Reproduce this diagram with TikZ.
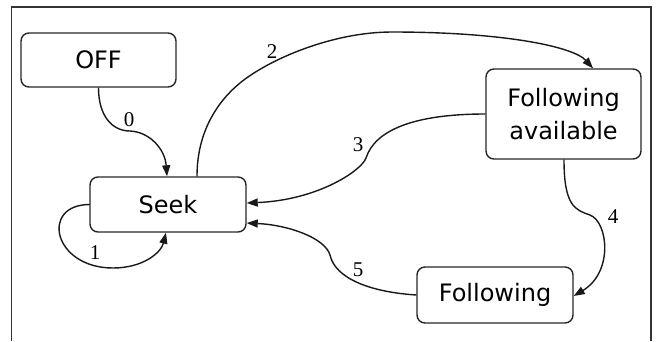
\documentclass[tikz,border=0pt]{standalone}
\usepackage{fontspec}
\setmainfont{DejaVu Sans}
\newfontfamily\numfont{Liberation Serif}
\usetikzlibrary{arrows.meta}
\begin{document}
\begin{tikzpicture}[x=1pt,y=-1pt,
  state/.style={draw=black!85,line width=1.4pt,rounded corners=8pt,
    inner sep=0pt,font=\fontsize{24}{33}\selectfont,align=center},
  trans/.style={draw=black!90,line width=1.4pt,
    -{Triangle[length=11pt,width=8pt]}},
  lbl/.style={font=\numfont\fontsize{21}{21}\selectfont,inner sep=0pt}]
  \useasboundingbox (0,0) rectangle (656,341);
  % frame
  \draw[black!80,line width=1.2pt] (11.5,341) -- (11.5,7) -- (651,7) -- (651,341);

  % states
  \node[state,minimum width=155pt,minimum height=54pt] (off) at (98.5,60) {OFF};
  \node[state,minimum width=156pt,minimum height=55pt] (seek) at (168,204.5) {Seek};
  \node[state,minimum width=155pt,minimum height=90pt] (avail) at (563.5,114) {Following\\available};
  \node[state,minimum width=156pt,minimum height=56pt] (fol) at (495,295) {Following};

  % transitions
  \draw[trans] ([xshift=0pt]off.south) .. controls +(0,28) and +(-18,0) .. (130,131)
     .. controls +(20,1) and +(-2,-27) .. ([xshift=-1pt]seek.north);
  \draw[trans] ([xshift=29pt]seek.north) .. controls +(0,-45) and +(-22,18) .. (240,83)
     .. controls +(28.6,-23.4) and +(-60,0) .. (392,32)
     .. controls +(110,0) and +(-20,-22) .. ([xshift=29.5pt]avail.north);
  \draw[trans] (avail.west) .. controls +(-71,0) and +(9,-28) .. (366,158)
     .. controls +(-4,12) and +(72,-3) .. ([yshift=1.5pt]seek.east);
  \draw[trans] ([xshift=0.5pt]seek.west) .. controls +(-50,0) and +(-60,0) .. (113,268)
     .. controls +(30,0) and +(-5,20) .. ([xshift=-2pt]seek.south);
  \draw[trans] ([xshift=0.5pt]avail.south) .. controls +(0,46) and +(-15,-5) .. (590,215)
     .. controls +(18,7) and +(40,-24) .. ([yshift=-1pt]fol.east);
  \draw[trans] (fol.west) .. controls +(-47,-3) and +(5,23) .. (330,255)
     .. controls +(-5,-17) and +(42,2) .. ([yshift=-18.5pt]seek.east);

  % labels
  \node[lbl] (l0) at (129,120) {0};
  \node[lbl] (l1) at (95,253) {1};
  \node[lbl] (l2) at (272,52) {2};
  \node[lbl] (l3) at (358,145) {3};
  \node[lbl] (l4) at (613,217) {4};
  \node[lbl] (l5) at (358,270) {5};
\end{tikzpicture}
\end{document}
